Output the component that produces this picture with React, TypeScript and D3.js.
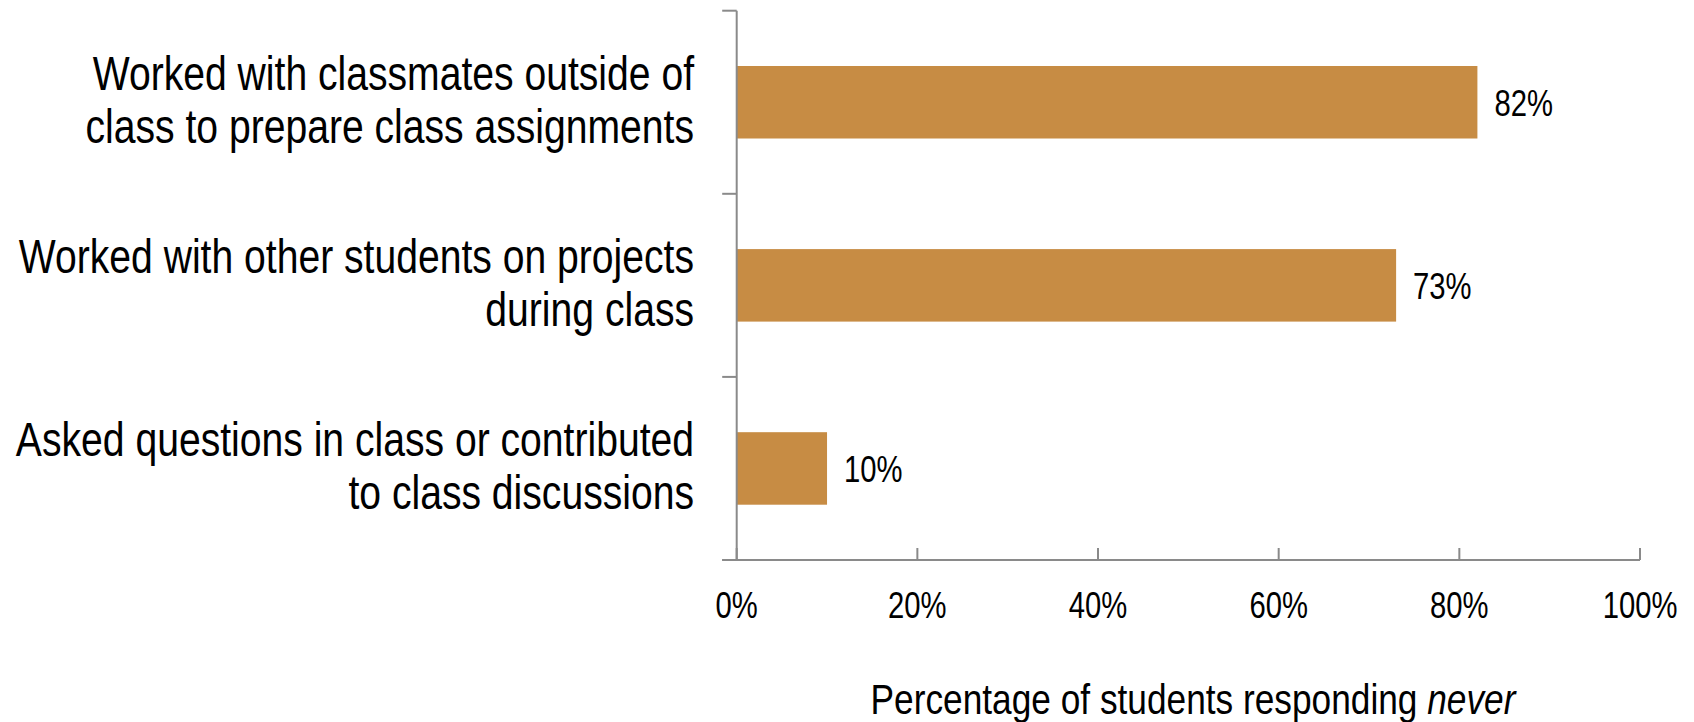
import React from "react";
import * as d3 from "d3";

const categories: string[][] = [
  ["Worked with classmates outside of", "class to prepare class assignments"],
  ["Worked with other students on projects", "during class"],
  ["Asked questions in class or contributed", "to class discussions"],
];
const values: number[] = [0.82, 0.73, 0.1];
const xTicks: number[] = [0, 0.2, 0.4, 0.6, 0.8, 1.0];
const axisTitle = "Percentage of students responding ";
const axisTitleItalic = "never";

const W = 1694;
const H = 722;
const FONT = "'Liberation Sans', Arial, sans-serif";
const BAR = "#C78C44";
const AXIS = "#8a8a8a";

export default function App() {
  const left = 736.7;
  const right = 1640;
  const top = 10.7;
  const bottom = 560;
  const x = d3.scaleLinear().domain([0, 1]).range([left, right]);
  const ids = categories.map((_, i) => String(i));
  const y = d3.scaleBand<string>().domain(ids).range([top, bottom]).padding(0);
  const barH = y.bandwidth() * 0.396;
  const boundaries = ids.map((id) => y(id)!).concat([bottom]);
  const fmt = d3.format(".0%");
  const sxNum = 0.79;
  const sxCat = 0.815;
  const sxTitle = 0.84;

  return (
    <svg
      width={W}
      height={H}
      style={{ position: "absolute", left: 0, top: 0, display: "block", background: "#fff" }}
      fontFamily={FONT}
    >
      {/* bars */}
      {values.map((v, i) => {
        const yc = y(ids[i])! + y.bandwidth() / 2;
        return (
          <g key={i}>
            <rect x={x(0)} y={yc - barH / 2} width={x(v) - x(0)} height={barH} fill={BAR} />
            <text
              transform={`translate(${x(v) + 17},${yc}) scale(${sxNum},1)`}
              dy="0.36em"
              fontSize={37}
              fill="#000"
            >
              {fmt(v)}
            </text>
          </g>
        );
      })}
      {/* y axis */}
      <line x1={left} x2={left} y1={top} y2={bottom} stroke={AXIS} strokeWidth={2} />
      {boundaries.map((b, i) => (
        <line key={i} x1={left - 14.5} x2={left} y1={b} y2={b} stroke={AXIS} strokeWidth={2} />
      ))}
      {/* x axis */}
      <line x1={left - 14.5} x2={right} y1={bottom} y2={bottom} stroke={AXIS} strokeWidth={2} />
      {xTicks.map((t, i) => (
        <g key={i}>
          <line x1={x(t)} x2={x(t)} y1={bottom - 12} y2={bottom} stroke={AXIS} strokeWidth={2} />
          <text
            transform={`translate(${x(t)},618) scale(${sxNum},1)`}
            textAnchor="middle"
            fontSize={37}
            fill="#000"
          >
            {fmt(t)}
          </text>
        </g>
      ))}
      {/* category labels */}
      {categories.map((lines, i) => {
        const yc = y(ids[i])! + y.bandwidth() / 2;
        const lh = 53.3;
        const firstBase = yc - 12.5;
        return (
          <text
            key={i}
            transform={`translate(694,0) scale(${sxCat},1)`}
            textAnchor="end"
            fontSize={48}
            fill="#000"
          >
            {lines.map((l, j) => (
              <tspan key={j} x={0} y={firstBase + j * lh}>
                {l}
              </tspan>
            ))}
          </text>
        );
      })}
      {/* axis title */}
      <text
        transform={`translate(1193,714) scale(${sxTitle},1)`}
        textAnchor="middle"
        fontSize={42}
        fill="#000"
      >
        {axisTitle}
        <tspan fontStyle="italic">{axisTitleItalic}</tspan>
      </text>
    </svg>
  );
}
